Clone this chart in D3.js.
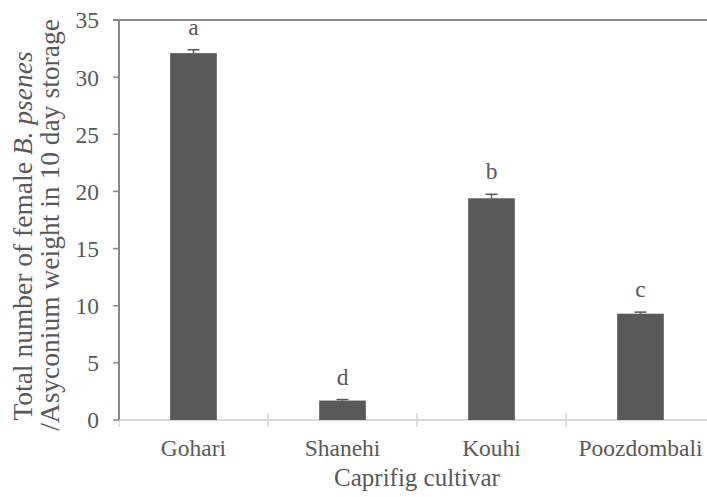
<!DOCTYPE html>
<html>
<head>
<meta charset="utf-8">
<script src="https://cdn.jsdelivr.net/npm/d3@7"></script>
<style>
  body { margin: 0; background: #fff; }
  text { font-family: "Liberation Serif", "Times New Roman", serif; fill: #595959; }
</style>
</head>
<body>
<script>
const cultivars = ["Gohari", "Shanehi", "Kouhi", "Poozdombali"];
const femaleCount = [32.1, 1.7, 19.4, 9.3];
const stdError = [0.3, 0.09, 0.35, 0.14];
const groupLetters = ["a", "d", "b", "c"];
const yTicks = [0, 5, 10, 15, 20, 25, 30, 35];

const width = 707, height = 497;
const plotLeft = 119, plotRight = 715, plotTop = 20, plotBottom = 420;

const svg = d3.select("body").append("svg")
  .attr("width", width)
  .attr("height", height);

const x = d3.scaleBand()
  .domain(cultivars)
  .range([plotLeft, plotRight])
  .paddingInner(0.687)
  .paddingOuter(0.3435);

const y = d3.scaleLinear().domain([0, 35]).range([plotBottom, plotTop]);

const step = x.step();

// top border
svg.append("line")
  .attr("x1", plotLeft - 6).attr("x2", width)
  .attr("y1", y(35)).attr("y2", y(35))
  .attr("stroke", "#898989").attr("stroke-width", 2);

// x axis line + category separators
svg.append("line")
  .attr("x1", plotLeft - 2).attr("x2", width)
  .attr("y1", plotBottom).attr("y2", plotBottom)
  .attr("stroke", "#d9d9d9").attr("stroke-width", 2);

const seps = d3.range(cultivars.length + 1).map(i => plotLeft + i * step);
svg.selectAll(".sep").data(seps).enter().append("line")
  .attr("class", "sep")
  .attr("x1", d => d).attr("x2", d => d)
  .attr("y1", d => d === plotLeft ? plotBottom : plotBottom - 7)
  .attr("y2", plotBottom + 7)
  .attr("stroke", "#d9d9d9").attr("stroke-width", 1.5);

// y axis
svg.append("line")
  .attr("x1", plotLeft).attr("x2", plotLeft)
  .attr("y1", y(35)).attr("y2", plotBottom)
  .attr("stroke", "#898989").attr("stroke-width", 2);

const yt = svg.selectAll(".ytick").data(yTicks).enter().append("g").attr("class", "ytick");
yt.append("line")
  .attr("x1", plotLeft - 6).attr("x2", plotLeft)
  .attr("y1", d => y(d)).attr("y2", d => y(d))
  .attr("stroke", "#898989").attr("stroke-width", 1.5);
yt.append("text")
  .attr("x", plotLeft - 20)
  .attr("y", d => y(d))
  .attr("dy", "0.36em")
  .attr("text-anchor", "end")
  .style("font-size", "23.5px")
  .text(d => d);

// bars
svg.selectAll(".bar").data(cultivars).enter().append("rect")
  .attr("class", "bar")
  .attr("x", d => x(d))
  .attr("width", x.bandwidth())
  .attr("y", (d, i) => y(femaleCount[i]))
  .attr("height", (d, i) => plotBottom - y(femaleCount[i]))
  .attr("fill", "#595959");

// error bars (upper half visible)
const eb = svg.selectAll(".err").data(cultivars).enter().append("g").attr("class", "err");
eb.append("line")
  .attr("x1", d => x(d) + x.bandwidth() / 2)
  .attr("x2", d => x(d) + x.bandwidth() / 2)
  .attr("y1", (d, i) => y(femaleCount[i]))
  .attr("y2", (d, i) => y(femaleCount[i] + stdError[i]))
  .attr("stroke", "#595959").attr("stroke-width", 1.5);
eb.append("line")
  .attr("x1", d => x(d) + x.bandwidth() / 2 - 6)
  .attr("x2", d => x(d) + x.bandwidth() / 2 + 6)
  .attr("y1", (d, i) => y(femaleCount[i] + stdError[i]))
  .attr("y2", (d, i) => y(femaleCount[i] + stdError[i]))
  .attr("stroke", "#595959").attr("stroke-width", 1.5);

// significance letters
svg.selectAll(".letter").data(cultivars).enter().append("text")
  .attr("class", "letter")
  .attr("x", d => x(d) + x.bandwidth() / 2)
  .attr("y", (d, i) => y(femaleCount[i] + stdError[i]) - 15)
  .attr("text-anchor", "middle")
  .style("font-size", "23.5px")
  .text((d, i) => groupLetters[i]);

// category labels
svg.selectAll(".cat").data(cultivars).enter().append("text")
  .attr("class", "cat")
  .attr("x", d => x(d) + x.bandwidth() / 2)
  .attr("y", 456)
  .attr("text-anchor", "middle")
  .style("font-size", "23.5px")
  .text(d => d);

// axis titles
svg.append("text")
  .attr("x", plotLeft + 2 * step)
  .attr("y", 486)
  .attr("text-anchor", "middle")
  .style("font-size", "25px")
  .text("Caprifig cultivar");

const t1 = svg.append("text")
  .attr("transform", "translate(32,236) rotate(-90)")
  .attr("text-anchor", "middle")
  .style("font-size", "27.5px");
t1.append("tspan").text("Total number of female ");
t1.append("tspan").style("font-style", "italic").text("B. psenes");

svg.append("text")
  .attr("transform", "translate(59,225) rotate(-90)")
  .attr("text-anchor", "middle")
  .style("font-size", "27.5px")
  .text("/Asyconium weight in 10 day storage");
</script>
</body>
</html>
